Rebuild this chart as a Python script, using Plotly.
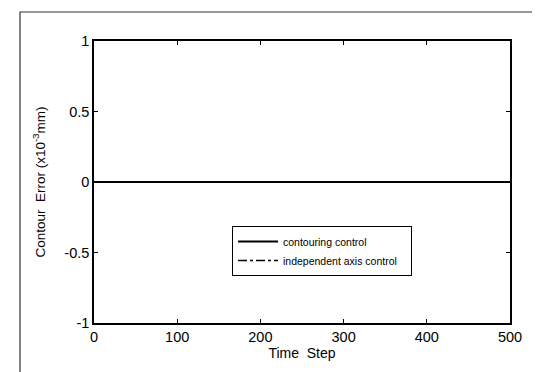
import plotly.graph_objects as go

# Data (values in x10^-3 mm): both curves stay on zero
time_steps = [0, 50, 100, 150, 200, 250, 300, 350, 400, 450, 500]
contouring = [0, 0, 0, 0, 0, 0, 0, 0, 0, 0, 0]
independent = [0, 0, 0, 0, 0, 0, 0, 0, 0, 0, 0]

x_ticks = [0, 100, 200, 300, 400, 500]
x_labels = ["0", "100", "200", "300", "400", "500"]
y_ticks = [-1, -0.5, 0, 0.5, 1]
y_labels = ["-1", "-0.5", "0", "0.5", "1"]

fig = go.Figure()
fig.add_trace(go.Scatter(x=time_steps, y=independent, mode="lines",
                         name="independent axis control   ",
                         line=dict(color="black", width=1.5, dash="dashdot")))
fig.add_trace(go.Scatter(x=time_steps, y=contouring, mode="lines",
                         name="contouring control",
                         line=dict(color="black", width=1.8)))

font = "Liberation Sans, Arial, sans-serif"
L, R, T, B = 86, 502, 33, 315
W, H = 540, 372
pw, ph = R - L, B - T

def px(x):
    return (x - L) / pw

def py(y):
    return (B - y) / ph

fig.update_layout(
    width=W, height=H,
    margin=dict(l=L, r=W - R, t=T, b=H - B),
    paper_bgcolor="white", plot_bgcolor="white",
    font=dict(family=font, color="black", size=13),
    showlegend=True,
    legend=dict(x=px(224), y=py(218), xanchor="left", yanchor="top",
                bgcolor="white", bordercolor="black", borderwidth=1,
                font=dict(size=10.5, family=font), traceorder="reversed",
                tracegroupgap=0, itemwidth=40),
    xaxis=dict(range=[0, 500], tickvals=x_ticks, ticktext=x_labels,
               ticks="inside", ticklen=4, tickcolor="black",
               showline=True, linecolor="black", linewidth=1.5, mirror="ticks",
               showgrid=False, zeroline=False,
               title=dict(text="Time  Step", standoff=2, font=dict(size=14)),
               tickfont=dict(size=14.5)),
    yaxis=dict(range=[-1, 1], tickvals=y_ticks, ticktext=y_labels,
               ticks="inside", ticklen=4, tickcolor="black",
               showline=True, linecolor="black", linewidth=1.5, mirror="ticks",
               showgrid=False, zeroline=False,
               title=dict(text="Contour  Error (x10<sup>-3</sup>mm)", standoff=16,
                          font=dict(size=13.5)),
               tickfont=dict(size=14.5)),
    shapes=[dict(type="rect", xref="paper", yref="paper",
                 x0=px(12), x1=px(527), y0=py(380), y1=py(4),
                 line=dict(color="#333", width=1.2), layer="below")],
)

fig.write_html("out.html")
